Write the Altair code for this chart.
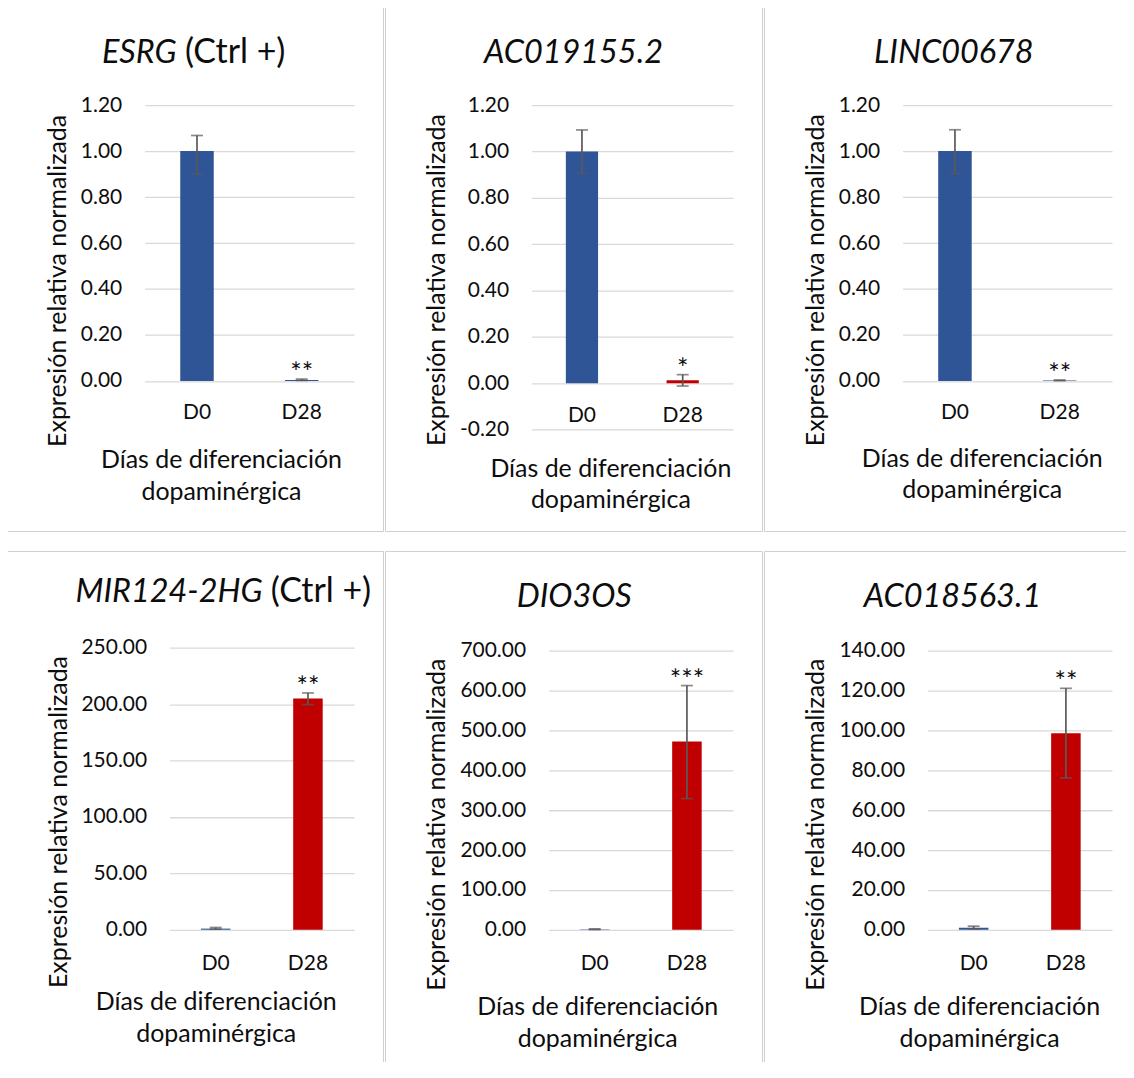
import altair as alt
import pandas as pd

# ---------------- data ----------------
days = ["D0", "D28"]
genes = ["ESRG", "AC019155.2", "LINC00678", "MIR124-2HG", "DIO3OS", "AC018563.1"]
title_suffix = ["(Ctrl +)", "", "", "(Ctrl +)", "", ""]
mean_d0 = [1.00, 1.00, 1.00, 1.0, 1.0, 1.0]
low_d0 = [0.90, 0.905, 0.902, 0.5, 0.4, 0.5]
high_d0 = [1.068, 1.093, 1.093, 2.0, 2.2, 1.8]
mean_d28 = [0.004, 0.013, 0.002, 205.0, 472.4, 98.6]
low_d28 = [0.002, -0.012, 0.001, 199.6, 329.2, 76.2]
high_d28 = [0.008, 0.037, 0.004, 209.9, 612.9, 121.2]
stars_d28 = ["**", "*", "**", "**", "***", "**"]
color_d0 = "#2F5597"
color_d28 = ["#2F5597", "#C00000", "#2F5597", "#C00000", "#C00000", "#C00000"]
y_ticks = [
    [0, 0.2, 0.4, 0.6, 0.8, 1.0, 1.2],
    [-0.2, 0, 0.2, 0.4, 0.6, 0.8, 1.0, 1.2],
    [0, 0.2, 0.4, 0.6, 0.8, 1.0, 1.2],
    [0, 50, 100, 150, 200, 250],
    [0, 100, 200, 300, 400, 500, 600, 700],
    [0, 20, 40, 60, 80, 100, 120, 140],
]
# axis ranges (the last two leave a little headroom above the top tick, as in Excel)
y_domains = [[0, 1.2], [-0.2, 1.2], [0, 1.2], [0, 250], [0, 708.0], [0, 141.6]]
y_title = "Expresión relativa normalizada"
x_title = ["Días de diferenciación", "dopaminérgica"]

# ---------------- layout / style (pixels) ----------------
FONT = "Lato"
TXT = "#0d0d0d"
GRID = "#d9d9d9"
BORDER = "#cfcfcf"
ERR = "#595959"
BOX_W, BOX_H = 378, 526

# page-coordinate targets: plot left/top, plot size, frame left/top (line centre)
styles = [
    dict(pl=145, pt=104, W=210, H=276.5, bl=6.5, bt=5.5, xoff=0, lpad=31.7,
         xt=(76.5, 79.1), yt=(-79.3, 175.7), title=(32, 40.5, -42)),
    dict(pl=533, pt=104, W=202, H=325.3, bl=386.5, bt=5.5, xoff=-47.1, lpad=32.9,
         xt=(79.0, 86.0), yt=(-87.0, 174.9), title=(42, None, -42)),
    dict(pl=905, pt=104, W=210, H=276.5, bl=766.5, bt=5.5, xoff=0, lpad=31.7,
         xt=(79.3, 77.5), yt=(-79.0, 175.0), title=(51.3, None, -42)),
    dict(pl=170, pt=648, W=185, H=282.8, bl=6.5, bt=551.5, xoff=0, lpad=33.9,
         xt=(46.3, 72.3), yt=(-103.3, 174.3), title=(93.3, 101.5, -46)),
    dict(pl=550, pt=648, W=185, H=282.8, bl=386.5, bt=551.5, xoff=0, lpad=33.9,
         xt=(48.8, 77.4), yt=(-104.0, 176.9), title=(25.8, None, -40.9)),
    dict(pl=930, pt=648, W=185, H=282.8, bl=766.5, bt=551.5, xoff=0, lpad=33.9,
         xt=(51.7, 77.4), yt=(-104.0, 176.9), title=(25.0, None, -40.9)),
]

one = pd.DataFrame({"k": [0]})


def make_panel(i):
    st = styles[i]
    df = pd.DataFrame({
        "day": days,
        "value": [mean_d0[i], mean_d28[i]],
        "lo": [low_d0[i], low_d28[i]],
        "hi": [high_d0[i], high_d28[i]],
        "color": [color_d0, color_d28[i]],
        "star": ["", stars_d28[i]],
    })

    x_axis = alt.Axis(
        title=x_title, labelAngle=0, ticks=False, tickSize=0, domain=False, grid=False,
        offset=st["xoff"], labelPadding=st["lpad"], labelBaseline="middle",
        labelFont=FONT, labelFontSize=21, labelColor=TXT,
        titleFont=FONT, titleFontSize=25, titleFontWeight="normal", titleColor=TXT,
        titleLineHeight=31.5, titleBaseline="middle", titleAlign="center",
        titleX=st["xt"][0], titleY=st["xt"][1],
    )
    x_enc = alt.X("day:N", sort=days,
                  scale=alt.Scale(domain=days, paddingInner=0, paddingOuter=0),
                  axis=x_axis)

    y_axis = alt.Axis(
        title=y_title, values=y_ticks[i], grid=True, gridColor=GRID, gridWidth=1.3,
        domain=False, ticks=False, tickSize=0, labelPadding=23,
        labelExpr="datum.value < 0 ? '-' + format(-datum.value, '.2f') : format(datum.value, '.2f')",
        labelFont=FONT, labelFontSize=21, labelColor=TXT,
        titleFont=FONT, titleFontSize=25, titleFontWeight="normal", titleColor=TXT,
        titleAngle=270, titleAlign="center", titleBaseline="alphabetic",
        titleX=st["yt"][0], titleY=st["yt"][1],
    )
    y_scale = alt.Scale(domain=y_domains[i], nice=False, zero=False)

    def y_enc(field):
        return alt.Y(f"{field}:Q", scale=y_scale, axis=y_axis)

    bx1 = st["bl"] - st["pl"]
    by1 = st["bt"] - st["pt"]
    border = alt.Chart(one).mark_rect(
        fill="white", fillOpacity=0, stroke=BORDER, strokeWidth=1
    ).encode(x=alt.value(bx1), x2=alt.value(bx1 + BOX_W),
             y=alt.value(by1), y2=alt.value(by1 + BOX_H))

    bars = alt.Chart(df).mark_bar(width=alt.RelativeBandSize(0.32)).encode(
        x=x_enc, y=y_enc("value"), color=alt.Color("color:N", scale=None)
    )
    rule = alt.Chart(df).mark_rule(color=ERR, strokeWidth=1.7).encode(
        x=x_enc, y=y_enc("lo"), y2="hi:Q"
    )
    cap_lo = alt.Chart(df).mark_tick(color=ERR, thickness=1.7, size=12, orient="horizontal").encode(
        x=x_enc, y=y_enc("lo")
    )
    cap_hi = alt.Chart(df).mark_tick(color=ERR, thickness=1.7, size=12, orient="horizontal").encode(
        x=x_enc, y=y_enc("hi")
    )
    stars = alt.Chart(df).mark_text(
        font=FONT, fontSize=27, color=TXT, baseline="alphabetic", align="center", dy=3
    ).encode(x=x_enc, y=y_enc("hi"), text="star:N")

    tx1, tx2, ty = st["title"]
    layers = [border, bars, rule, cap_lo, cap_hi, stars]
    if title_suffix[i]:
        layers.append(
            alt.Chart(one).mark_text(font=FONT, fontSize=32.5, fontStyle="italic", color=TXT,
                                     align="right", baseline="alphabetic")
            .encode(x=alt.value(tx1), y=alt.value(ty), text=alt.value(genes[i]))
        )
        layers.append(
            alt.Chart(one).mark_text(font=FONT, fontSize=34, color=TXT,
                                     align="left", baseline="alphabetic")
            .encode(x=alt.value(tx2), y=alt.value(ty), text=alt.value(title_suffix[i]))
        )
    else:
        layers.append(
            alt.Chart(one).mark_text(font=FONT, fontSize=32.5, fontStyle="italic", color=TXT,
                                     align="center", baseline="alphabetic")
            .encode(x=alt.value(tx1), y=alt.value(ty), text=alt.value(genes[i]))
        )

    return alt.layer(*layers).properties(width=st["W"], height=st["H"])


def spacer():
    return alt.Chart(one).mark_rect(color="white").encode(
        x=alt.value(0), x2=alt.value(1), y=alt.value(0), y2=alt.value(1)
    ).properties(width=1, height=1)


panels = [make_panel(i) for i in range(6)]
row1 = alt.hconcat(spacer(), panels[0], panels[1], panels[2], spacing=1)
row2 = alt.hconcat(spacer(), panels[3], panels[4], panels[5], spacing=1)

chart = (
    alt.vconcat(row1, row2, spacing=19)
    .properties(padding={"left": -4, "top": -3, "right": -16, "bottom": -16})
    .configure(background="white", font=FONT)
    .configure_view(strokeWidth=0)
)

chart.save("out.html", embed_options={"renderer": "svg", "actions": False})
